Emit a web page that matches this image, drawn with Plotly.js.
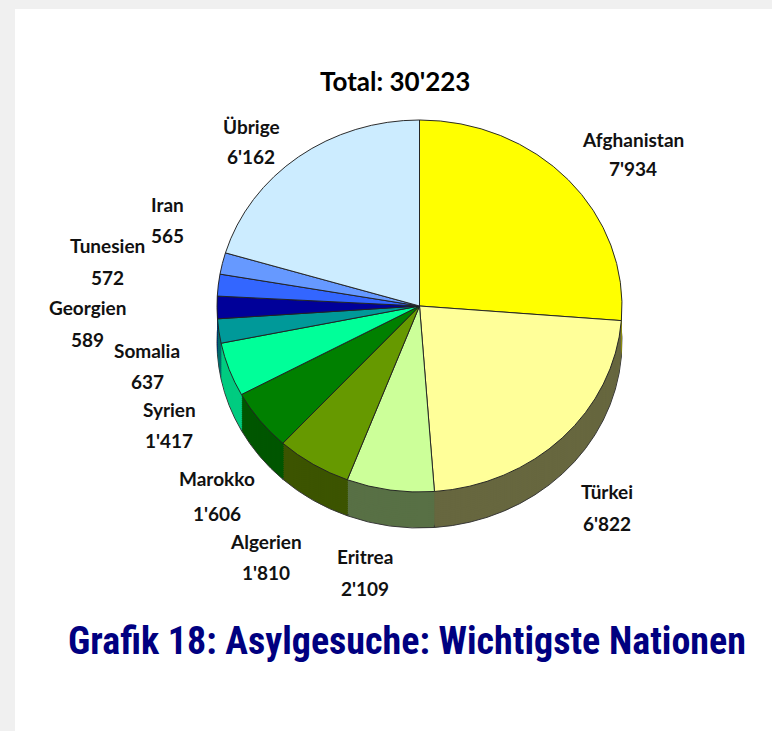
<!DOCTYPE html>
<html>
<head>
<meta charset="utf-8">
<script src="https://cdn.plot.ly/plotly-3.0.1.min.js"></script>
<style>
  html, body { margin: 0; padding: 0; background: #ffffff; }
  #chart { width: 772px; height: 731px; }
</style>
</head>
<body>
<div id="chart"></div>
<script>
// ---- data ----
const nations = ["Afghanistan", "Türkei", "Eritrea", "Algerien", "Marokko", "Syrien",
                 "Somalia", "Georgien", "Tunesien", "Iran", "Übrige"];
const requests = [7934, 6822, 2109, 1810, 1606, 1417, 637, 589, 572, 565, 6162];
const chartTitle = "Total: 30'223";
const caption = "Grafik 18: Asylgesuche: Wichtigste Nationen";

// ---- styles ----
const topColors  = ["#FFFF00", "#FFFF99", "#CCFF99", "#669900", "#008000", "#00FF99",
                    "#009999", "#000099", "#3366FF", "#6699FF", "#CCECFF"];
const sideColors = ["#999900", "#67673F", "#587045", "#3C5400", "#005600", "#00CC80",
                    "#006B6B", "#00006B", "#2447B3", "#4A6FB3", "#8FA6B3"];
// label placement (pixel centres of name line / value line) - layout only
const labelPos = [
  [633, 139, 168], [607, 491, 523], [365, 556, 588], [266, 541, 572],
  [217, 479, 513], [169, 409, 440], [147, 351, 381], [87, 308, 340],
  [107, 245, 277], [167, 204, 235], [251, 126, 156]
];

const W = 772, H = 731;
const CX = 419.5, CY = 306, R = 202.5, RY = 186, DEPTH = 36;
const S = RY / R;

function fmt(v) { return String(v).replace(/\B(?=(\d{3})+(?!\d))/g, "'"); }
const px = x => x / W;
const py = y => 1 - y / H;

function pieTrace(offsetFinal, colors, line) {
  const off = offsetFinal / S;
  return {
    type: "pie",
    values: requests,
    labels: nations,
    sort: false,
    direction: "clockwise",
    rotation: 0,
    textinfo: "none",
    hoverinfo: "skip",
    showlegend: false,
    marker: { colors: colors, line: line },
    domain: {
      x: [px(CX - R), px(CX + R)],
      y: [py(CY + off + R), py(CY + off - R)]
    }
  };
}

const traces = [];
for (let d = DEPTH; d > 0; d -= 2) {
  traces.push(pieTrace(d, sideColors,
    d === DEPTH ? { color: "#333333", width: 1 } : { color: "rgba(0,0,0,0)", width: 0 }));
}
traces.push(pieTrace(0, topColors, { color: "#222222", width: 1 }));

const labelFont = { family: "Lato, 'Open Sans', sans-serif", size: 19, color: "#111111", weight: 700 };
const annotations = [];
nations.forEach((n, i) => {
  const p = labelPos[i];
  annotations.push({ text: "<b>" + n + "</b>", x: px(p[0]), y: py(p[1]), xref: "paper", yref: "paper",
    showarrow: false, xanchor: "center", yanchor: "middle", font: labelFont });
  annotations.push({ text: "<b>" + fmt(requests[i]) + "</b>", x: px(p[0]), y: py(p[2]), xref: "paper", yref: "paper",
    showarrow: false, xanchor: "center", yanchor: "middle", font: labelFont });
});
annotations.push({ text: "<b>" + chartTitle + "</b>", x: px(395), y: py(81), xref: "paper", yref: "paper",
  showarrow: false, xanchor: "center", yanchor: "middle",
  font: { family: "Lato, 'Open Sans', sans-serif", size: 26, color: "#000000" } });
annotations.push({ text: "<b>" + caption + "</b>", x: px(407), y: py(641), xref: "paper", yref: "paper",
  showarrow: false, xanchor: "center", yanchor: "middle",
  font: { family: "'Liberation Sans Narrow', 'Arial Narrow', 'Roboto Condensed', sans-serif", size: 38, color: "#000080" } });

const layout = {
  width: W, height: H,
  margin: { l: 0, r: 0, t: 0, b: 0 },
  paper_bgcolor: "#ffffff",
  showlegend: false,
  annotations: annotations,
  shapes: [
    { type: "rect", xref: "paper", yref: "paper", x0: 0, x1: 1, y0: py(9), y1: 1,
      fillcolor: "#f0f0f0", line: { width: 0 }, layer: "below" },
    { type: "rect", xref: "paper", yref: "paper", x0: 0, x1: px(15), y0: 0, y1: 1,
      fillcolor: "#f0f0f0", line: { width: 0 }, layer: "below" }
  ]
};

Plotly.newPlot("chart", traces, layout, { staticPlot: true, displayModeBar: false }).then(() => {
  const g = document.querySelector(".pielayer");
  if (g) g.setAttribute("transform", `translate(0 ${CY}) scale(1 ${S}) translate(0 ${-CY})`);
});
</script>
</body>
</html>
